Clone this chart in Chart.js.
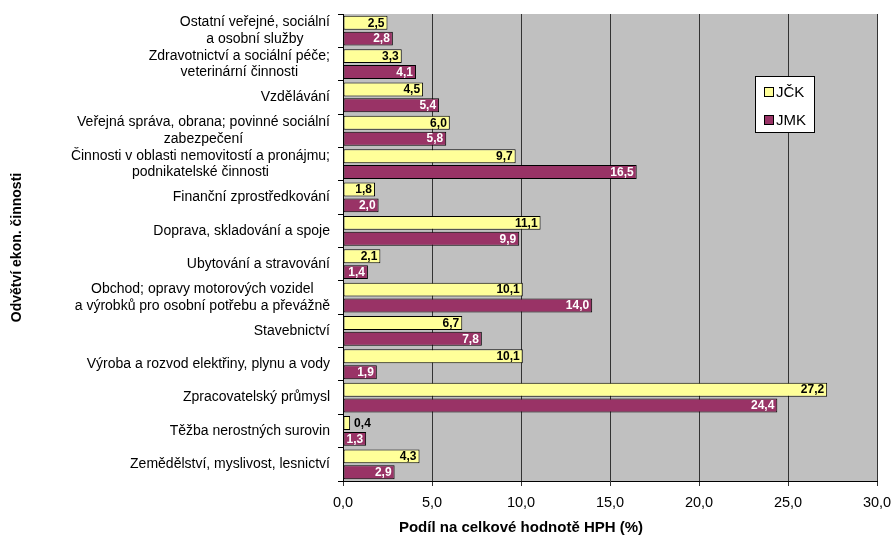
<!DOCTYPE html>
<html><head><meta charset="utf-8">
<script src="https://cdn.jsdelivr.net/npm/chart.js@4"></script>
<style>html,body{margin:0;padding:0;background:#fff}</style>
</head><body>
<canvas id="c" width="891" height="540" style="display:block;width:891px;height:540px"></canvas>
<script>
const categories = [
  ["Ostatní veřejné, sociální", "a osobní služby"],
  ["Zdravotnictví a sociální péče;", "veterinární činnosti"],
  ["Vzdělávání"],
  ["Veřejná správa, obrana; povinné sociální", "zabezpečení"],
  ["Činnosti v oblasti nemovitostí a pronájmu;", "podnikatelské činnosti"],
  ["Finanční zprostředkování"],
  ["Doprava, skladování a spoje"],
  ["Ubytování a stravování"],
  ["Obchod; opravy motorových vozidel", "a výrobků pro osobní potřebu a převážně"],
  ["Stavebnictví"],
  ["Výroba a rozvod elektřiny, plynu a vody"],
  ["Zpracovatelský průmysl"],
  ["Těžba nerostných surovin"],
  ["Zemědělství, myslivost, lesnictví"]
];
const seriesNames = ["JČK", "JMK"];
const jckValues = [2.5, 3.3, 4.5, 6.0, 9.7, 1.8, 11.1, 2.1, 10.1, 6.7, 10.1, 27.2, 0.4, 4.3];
const jmkValues = [2.8, 4.1, 5.4, 5.8, 16.5, 2.0, 9.9, 1.4, 14.0, 7.8, 1.9, 24.4, 1.3, 2.9];
const xTickValues = [0, 5, 10, 15, 20, 25, 30];
const xAxisTitle = "Podíl na celkové hodnotě HPH (%)";
const yAxisTitle = "Odvětví ekon. činnosti";

const FONT = '"Liberation Sans", Arial, sans-serif';
const fmt = v => v.toFixed(1).replace('.', ',');

const bgPlugin = {
  id: 'bg',
  beforeDraw(chart) {
    const {ctx, chartArea: a} = chart;
    ctx.save();
    ctx.fillStyle = '#C0C0C0';
    ctx.fillRect(a.left, a.top, a.right - a.left, a.bottom - a.top);
    ctx.restore();
  }
};

const barLabelPlugin = {
  id: 'barLabels',
  afterDatasetsDraw(chart) {
    const ctx = chart.ctx;
    ctx.save();
    ctx.font = 'bold 12px ' + FONT;
    ctx.textBaseline = 'middle';
    chart.data.datasets.forEach((ds, di) => {
      const meta = chart.getDatasetMeta(di);
      meta.data.forEach((bar, i) => {
        const txt = fmt(ds.data[i]);
        const w = ctx.measureText(txt).width;
        if (bar.x - bar.base > w + 4) {
          ctx.textAlign = 'right';
          ctx.fillStyle = di === 0 ? '#000' : '#fff';
          ctx.fillText(txt, bar.x - 3, bar.y + 0.5);
        } else {
          ctx.textAlign = 'left';
          ctx.fillStyle = '#000';
          ctx.fillText(txt, bar.x + 4, bar.y + 0.5);
        }
      });
    });
    ctx.restore();
  }
};

const textPlugin = {
  id: 'texts',
  afterDraw(chart) {
    const ctx = chart.ctx;
    const y = chart.scales.y;
    const a = chart.chartArea;
    ctx.save();
    // category labels
    ctx.font = '14px ' + FONT;
    ctx.fillStyle = '#000';
    ctx.textBaseline = 'middle';
    ctx.textAlign = 'center';
    const rightX = a.left - 13;
    const lh = 16.5;
    categories.forEach((lines, i) => {
      const cy = y.getPixelForValue(i);
      const bw = Math.max(...lines.map(l => ctx.measureText(l).width));
      const cx = rightX - bw / 2;
      const y0 = cy - (lines.length - 1) * lh / 2;
      lines.forEach((l, k) => ctx.fillText(l, cx, y0 + k * lh));
    });
    // axis titles
    ctx.font = 'bold 15px ' + FONT;
    ctx.fillText(xAxisTitle, 521, 528);
    ctx.font = 'bold 14px ' + FONT;
    ctx.save();
    ctx.translate(17, (a.top + a.bottom) / 2);
    ctx.rotate(-Math.PI / 2);
    ctx.fillText(yAxisTitle, 0, 0);
    ctx.restore();
    // legend
    const bx = 755.5, by = 76.5, bw = 59, bh = 56;
    ctx.fillStyle = '#fff';
    ctx.fillRect(bx, by, bw, bh);
    ctx.strokeStyle = '#000';
    ctx.lineWidth = 1;
    ctx.strokeRect(bx, by, bw, bh);
    ctx.font = '15px ' + FONT;
    ctx.textAlign = 'left';
    chart.data.datasets.forEach((ds, i) => {
      const yy = 92 + i * 28;
      ctx.fillStyle = ds.backgroundColor;
      ctx.fillRect(764.5, yy - 4.5, 9, 9);
      ctx.strokeRect(764.5, yy - 4.5, 9, 9);
      ctx.fillStyle = '#000';
      ctx.fillText(ds.label, 776, yy + 1);
    });
    ctx.restore();
  }
};

new Chart(document.getElementById('c'), {
  type: 'bar',
  data: {
    labels: categories.map(l => l.join(' ')),
    datasets: [
      { label: seriesNames[0], data: jckValues, backgroundColor: '#FFFF99', borderColor: '#000', borderWidth: 1, borderSkipped: false, barPercentage: 0.88, categoryPercentage: 0.95 },
      { label: seriesNames[1], data: jmkValues, backgroundColor: '#993366', borderColor: '#000', borderWidth: 1, borderSkipped: false, barPercentage: 0.88, categoryPercentage: 0.95 }
    ]
  },
  options: {
    indexAxis: 'y',
    responsive: false,
    animation: false,
    devicePixelRatio: 1,
    layout: { padding: { top: 14, right: 14, left: 0, bottom: 0 } },
    plugins: { legend: { display: false }, tooltip: { enabled: false } },
    scales: {
      x: {
        min: 0, max: 30,
        afterBuildTicks: s => { s.ticks = xTickValues.map(v => ({ value: v })); },
        afterFit: s => { s.height = 59; s.paddingLeft = 0; s.paddingRight = 0; },
        ticks: { color: '#000', font: { size: 14.5, family: FONT }, padding: 8, callback: v => fmt(v), maxRotation: 0 },
        grid: { color: '#333', lineWidth: 1, tickLength: 5, drawTicks: true },
        border: { display: true, color: '#000' },
        title: { display: false }
      },
      y: {
        afterFit: s => { s.width = 343; s.paddingTop = 0; s.paddingBottom = 0; },
        ticks: { display: false },
        grid: { display: true, drawOnChartArea: false, color: '#000', tickLength: 5, offset: true },
        border: { display: true, color: '#000' },
        title: { display: false }
      }
    }
  },
  plugins: [bgPlugin, barLabelPlugin, textPlugin]
});
</script>
</body></html>
